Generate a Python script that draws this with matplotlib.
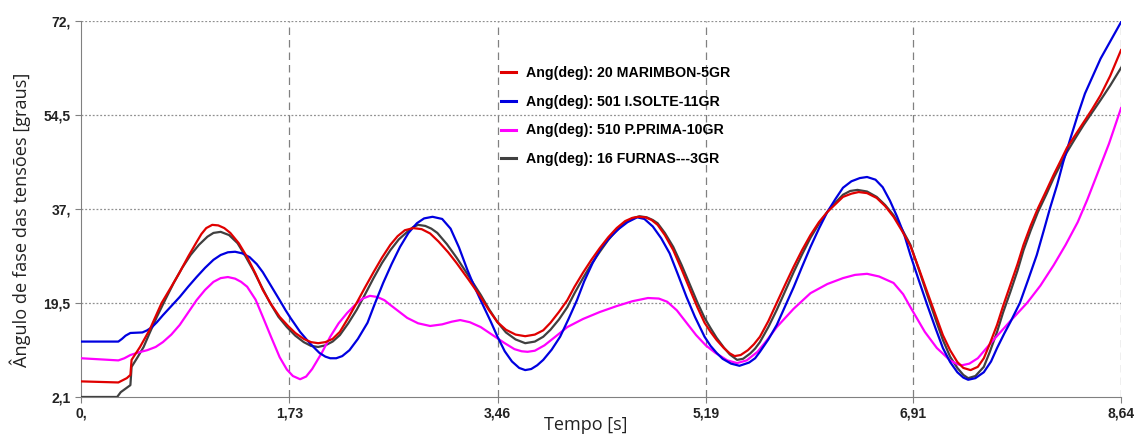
import matplotlib.pyplot as plt
import numpy as np

# time [s] / angle [deg]
t_red = [0.00, 0.31, 0.38, 0.41, 0.42, 0.49, 0.57, 0.67, 0.75, 0.82, 0.89, 0.96, 1.00, 1.04, 1.09,
         1.14, 1.19, 1.24, 1.31, 1.38, 1.45, 1.51, 1.58, 1.65, 1.72, 1.78, 1.85, 1.91, 1.97, 2.03,
         2.09, 2.15, 2.22, 2.29, 2.36, 2.43, 2.50, 2.57, 2.63, 2.69, 2.76, 2.83, 2.90, 2.97, 3.05,
         3.12, 3.22, 3.32, 3.39, 3.46, 3.53, 3.61, 3.69, 3.77, 3.84, 3.90, 3.97, 4.04, 4.10, 4.17,
         4.24, 4.31, 4.38, 4.45, 4.52, 4.58, 4.63, 4.69, 4.74, 4.79, 4.85, 4.92, 4.99, 5.06, 5.12,
         5.18, 5.23, 5.28, 5.34, 5.39, 5.43, 5.48, 5.54, 5.59, 5.64, 5.71, 5.78, 5.85, 5.92, 5.99,
         6.06, 6.13, 6.20, 6.27, 6.33, 6.40, 6.46, 6.53, 6.61, 6.68, 6.75, 6.82, 6.89, 6.96, 7.03,
         7.10, 7.16, 7.22, 7.28, 7.33, 7.39, 7.45, 7.50, 7.55, 7.61, 7.66, 7.72, 7.78, 7.83, 7.89,
         7.95, 8.02, 8.08, 8.14, 8.19, 8.26, 8.33, 8.40, 8.47, 8.55, 8.64]
y_red = [5.0, 4.8, 5.6, 6.2, 9.0, 11.4, 14.6, 19.6, 22.6, 25.3, 28.2, 30.9, 32.4, 33.5, 34.1,
         34.0, 33.5, 32.6, 30.7, 28.1, 25.0, 22.0, 19.3, 17.0, 15.3, 14.0, 12.9, 12.3, 12.1, 12.3,
         12.9, 14.2, 16.8, 19.6, 22.5, 25.3, 28.0, 30.4, 32.0, 33.1, 33.5, 33.3, 32.5, 31.0, 29.0,
         27.0, 23.9, 20.7, 18.2, 16.0, 14.6, 13.7, 13.4, 13.7, 14.5, 15.9, 17.9, 20.1, 22.6, 25.2,
         27.6, 29.8, 31.8, 33.5, 34.8, 35.4, 35.6, 35.5, 35.0, 34.1, 32.2, 29.4, 25.8, 22.0, 18.8,
         15.9, 14.2, 12.7, 11.2, 10.2, 9.7, 9.9, 10.8, 11.9, 13.3, 16.2, 19.6, 23.0, 26.3, 29.4,
         32.2, 34.6, 36.5, 38.0, 39.3, 39.9, 40.2, 40.0, 39.1, 37.6, 35.6, 33.0, 30.2, 26.0, 21.6,
         17.3, 13.6, 10.8, 8.6, 7.5, 7.1, 7.7, 9.3, 12.0, 15.5, 19.0, 22.9, 26.8, 30.4, 34.0,
         37.2, 40.5, 43.4, 46.1, 48.4, 50.8, 53.2, 55.6, 58.2, 61.8, 66.6]

t_blue = [0.00, 0.31, 0.34, 0.37, 0.41, 0.51, 0.55, 0.59, 0.63, 0.68, 0.75, 0.82, 0.89, 0.96, 1.03,
          1.10, 1.16, 1.22, 1.28, 1.34, 1.40, 1.46, 1.51, 1.58, 1.65, 1.70, 1.74, 1.82, 1.90, 1.98,
          2.03, 2.07, 2.12, 2.17, 2.23, 2.30, 2.38, 2.44, 2.51, 2.58, 2.65, 2.72, 2.79, 2.85, 2.92,
          3.00, 3.07, 3.14, 3.21, 3.27, 3.33, 3.40, 3.46, 3.52, 3.58, 3.64, 3.69, 3.74, 3.79, 3.84,
          3.91, 3.98, 4.05, 4.12, 4.18, 4.25, 4.32, 4.40, 4.47, 4.54, 4.62, 4.68, 4.75, 4.82, 4.89,
          4.96, 5.03, 5.10, 5.18, 5.23, 5.28, 5.33, 5.40, 5.47, 5.55, 5.60, 5.64, 5.71, 5.78, 5.85,
          5.92, 5.99, 6.06, 6.13, 6.20, 6.27, 6.33, 6.40, 6.47, 6.53, 6.60, 6.66, 6.72, 6.78, 6.84,
          6.89, 6.96, 7.03, 7.10, 7.16, 7.22, 7.28, 7.33, 7.37, 7.43, 7.50, 7.56, 7.61, 7.67, 7.72,
          7.80, 7.87, 7.94, 8.00, 8.05, 8.11, 8.16, 8.22, 8.28, 8.34, 8.41, 8.47, 8.52, 8.58, 8.64]
y_blue = [12.4, 12.4, 12.9, 13.5, 14.0, 14.1, 14.5, 15.1, 16.0, 17.3, 19.0, 20.7, 22.6, 24.4, 26.1,
          27.6, 28.5, 29.0, 29.1, 28.8, 28.1, 26.8, 25.3, 22.7, 20.1, 18.2, 16.8, 14.2, 12.1, 10.3,
          9.6, 9.3, 9.3, 9.7, 10.8, 12.9, 15.9, 19.4, 23.3, 26.8, 30.0, 32.6, 34.4, 35.3, 35.6,
          35.2, 33.4, 29.9, 25.7, 22.5, 19.6, 16.3, 13.3, 10.6, 8.7, 7.5, 7.1, 7.3, 8.0, 9.0,
          10.9, 13.3, 16.6, 20.1, 23.6, 27.0, 29.8, 31.9, 33.4, 34.6, 35.5, 35.2, 33.8, 31.6, 28.8,
          24.8, 20.7, 17.0, 13.3, 11.6, 10.3, 9.2, 8.3, 7.9, 8.5, 9.3, 10.5, 12.8, 15.5, 19.0,
          22.5, 26.3, 30.0, 33.4, 36.5, 39.0, 41.0, 42.2, 42.8, 43.0, 42.5, 41.1, 38.6, 35.6, 32.2,
          28.5, 23.8, 19.2, 14.8, 11.2, 8.6, 6.7, 5.7, 5.3, 5.6, 6.7, 8.7, 11.2, 13.9, 16.0,
          19.6, 24.0, 28.5, 33.2, 37.2, 41.6, 45.8, 50.2, 54.5, 58.5, 62.0, 65.0, 67.0, 69.4, 71.8]

t_mag = [0.00, 0.31, 0.36, 0.41, 0.48, 0.55, 0.62, 0.68, 0.75, 0.82, 0.89, 0.96, 1.03, 1.10, 1.16,
         1.22, 1.28, 1.33, 1.38, 1.45, 1.51, 1.58, 1.65, 1.71, 1.76, 1.82, 1.87, 1.92, 2.00, 2.07,
         2.14, 2.21, 2.28, 2.34, 2.40, 2.46, 2.52, 2.57, 2.64, 2.71, 2.80, 2.90, 3.00, 3.08, 3.15,
         3.23, 3.32, 3.42, 3.52, 3.60, 3.66, 3.71, 3.77, 3.85, 3.94, 4.04, 4.17, 4.31, 4.45, 4.58,
         4.71, 4.80, 4.87, 4.95, 5.03, 5.11, 5.19, 5.27, 5.37, 5.45, 5.53, 5.62, 5.70, 5.78, 5.92,
         6.06, 6.20, 6.33, 6.43, 6.53, 6.63, 6.75, 6.83, 6.89, 6.95, 7.01, 7.11, 7.22, 7.28, 7.32,
         7.38, 7.45, 7.58, 7.72, 7.86, 7.97, 8.08, 8.18, 8.28, 8.36, 8.44, 8.54, 8.64]
y_mag = [9.3, 8.9, 9.3, 9.9, 10.4, 10.8, 11.4, 12.3, 13.7, 15.5, 17.8, 20.1, 22.0, 23.5, 24.2,
         24.4, 24.1, 23.5, 22.6, 20.2, 17.0, 13.2, 9.5, 7.2, 6.0, 5.4, 5.9, 7.3, 10.3, 13.3,
         15.8, 17.7, 19.3, 20.4, 20.9, 20.7, 20.1, 19.2, 18.0, 16.8, 15.8, 15.3, 15.6, 16.1, 16.4,
         16.0, 15.1, 13.6, 12.1, 11.0, 10.6, 10.5, 10.7, 11.7, 13.3, 15.1, 16.6, 17.9, 19.0, 19.9,
         20.5, 20.4, 19.8, 18.2, 15.9, 13.6, 11.7, 10.3, 8.9, 8.4, 8.9, 10.5, 12.7, 15.1, 18.5,
         21.4, 23.1, 24.2, 24.8, 25.0, 24.5, 23.3, 21.2, 18.8, 16.5, 14.2, 11.2, 8.9, 8.2, 8.0,
         8.3, 9.3, 12.7, 16.2, 19.6, 22.8, 26.6, 30.4, 34.6, 38.8, 43.4, 49.2, 55.8]

t_blk = [0.00, 0.30, 0.33, 0.41, 0.42, 0.47, 0.52, 0.57, 0.63, 0.70, 0.77, 0.84, 0.91, 0.98, 1.05,
         1.10, 1.16, 1.23, 1.30, 1.36, 1.43, 1.50, 1.57, 1.64, 1.71, 1.78, 1.85, 1.91, 1.97, 2.03,
         2.09, 2.15, 2.22, 2.29, 2.36, 2.43, 2.50, 2.57, 2.64, 2.71, 2.76, 2.80, 2.86, 2.91, 2.96,
         3.04, 3.12, 3.22, 3.32, 3.39, 3.46, 3.53, 3.61, 3.69, 3.77, 3.84, 3.90, 3.97, 4.04, 4.10,
         4.17, 4.24, 4.31, 4.38, 4.45, 4.52, 4.58, 4.64, 4.70, 4.75, 4.79, 4.85, 4.92, 4.99, 5.06,
         5.12, 5.18, 5.23, 5.28, 5.34, 5.39, 5.45, 5.50, 5.56, 5.60, 5.64, 5.71, 5.78, 5.85, 5.92,
         5.99, 6.06, 6.13, 6.20, 6.27, 6.33, 6.39, 6.45, 6.53, 6.61, 6.68, 6.75, 6.82, 6.89, 6.96,
         7.03, 7.10, 7.16, 7.22, 7.28, 7.33, 7.37, 7.43, 7.50, 7.55, 7.61, 7.66, 7.72, 7.78, 7.83,
         7.89, 7.95, 8.02, 8.08, 8.14, 8.19, 8.26, 8.33, 8.40, 8.47, 8.55, 8.64]
y_blk = [2.1, 2.1, 3.0, 4.3, 7.7, 9.5, 11.4, 14.0, 17.0, 20.2, 23.3, 26.1, 28.5, 30.4, 31.9,
         32.6, 32.8, 32.2, 30.7, 28.5, 25.7, 22.6, 19.6, 17.0, 15.1, 13.5, 12.3, 11.6, 11.4, 11.7,
         12.4, 13.6, 15.8, 18.3, 21.2, 24.2, 27.0, 29.4, 31.4, 32.8, 33.7, 34.1, 33.9, 33.4, 32.6,
         30.5, 28.0, 24.6, 21.1, 18.4, 16.0, 14.1, 12.8, 12.1, 12.4, 13.3, 14.6, 16.5, 18.8, 21.4,
         24.2, 26.8, 29.1, 31.3, 33.1, 34.5, 35.3, 35.7, 35.5, 35.0, 34.4, 32.6, 30.0, 26.6, 22.9,
         19.7, 16.8, 14.9, 13.1, 11.3, 10.0, 9.0, 9.2, 10.2, 11.1, 12.3, 15.1, 18.3, 21.8, 25.3,
         28.6, 31.7, 34.3, 36.5, 38.3, 39.7, 40.4, 40.6, 40.3, 39.3, 37.8, 35.9, 33.3, 30.4, 25.8,
         21.1, 16.5, 12.7, 9.6, 7.5, 6.2, 5.6, 6.0, 7.7, 10.5, 14.2, 17.8, 21.6, 25.6, 29.4,
         33.1, 36.5, 39.8, 42.8, 45.4, 47.6, 50.2, 52.7, 55.0, 57.3, 60.0, 63.3]

labels = ["Ang(deg): 20 MARIMBON-5GR", "Ang(deg): 501 I.SOLTE-11GR",
          "Ang(deg): 510 P.PRIMA-10GR", "Ang(deg): 16 FURNAS---3GR"]
colors = ["#e00000", "#0000e0", "#ff00ff", "#404040"]

xticks = [0, 1.73, 3.46, 5.19, 6.91, 8.64]
xticklabels = ["0,", "1,73", "3,46", "5,19", "6,91", "8,64"]
yticks = [2.1, 19.5, 37, 54.5, 72]
yticklabels = ["2,1", "19,5", "37,", "54,5", "72,"]

fig = plt.figure(figsize=(11.35, 4.34), dpi=100)
ax = fig.add_axes([0.0714, 0.0853, 0.9163, 0.8663])

l_blk, = ax.plot(t_blk, y_blk, color=colors[3], lw=1.6, zorder=3)
l_mag, = ax.plot(t_mag, y_mag, color=colors[2], lw=1.6, zorder=4)
l_blue, = ax.plot(t_blue, y_blue, color=colors[1], lw=1.6, zorder=5)
l_red, = ax.plot(t_red, y_red, color=colors[0], lw=1.6, zorder=6)

ax.set_xlim(0, 8.64)
ax.set_ylim(2.1, 72)

tick_font = {"family": "Liberation Sans", "weight": "bold", "size": 10}
ax.set_xticks(xticks)
ax.set_xticklabels(xticklabels, fontdict=tick_font, color="#222222")
ax.set_yticks(yticks)
ax.set_yticklabels(yticklabels, fontdict=tick_font, color="#222222")
ax.tick_params(axis="both", length=4, color="#808080", width=0.8)
ax.tick_params(axis="x", pad=3)

for x in xticks[1:]:
    ax.axvline(x, color="#808080", ls=(0, (6, 4)), lw=0.9, zorder=1)
for y in yticks[1:]:
    ax.axhline(y, color="#909090", ls=(0, (1.5, 1.5)), lw=0.9, zorder=1)

for s in ["top", "right"]:
    ax.spines[s].set_visible(False)
ax.spines["left"].set_color("#808080")
ax.spines["bottom"].set_color("#808080")

ax.set_xlabel("Tempo [s]", fontsize=13, family="Open Sans", color="#222222")
ax.xaxis.set_label_coords(0.485, -0.05)
ax.set_ylabel("Ângulo de fase das tensões [graus]", fontsize=13.1, family="Open Sans",
              color="#222222")
ax.yaxis.set_label_coords(-0.048, 0.472)

leg = ax.legend([l_red, l_blue, l_mag, l_blk], labels, loc="upper left",
                bbox_to_anchor=(0.392, 0.915), frameon=False, handlelength=1.0,
                handletextpad=0.7, labelspacing=1.05,
                prop={"family": "Liberation Sans", "weight": "bold", "size": 10.2})
for h in leg.get_lines():
    h.set_linewidth(2.2)

fig.savefig("out.png", dpi=100)
